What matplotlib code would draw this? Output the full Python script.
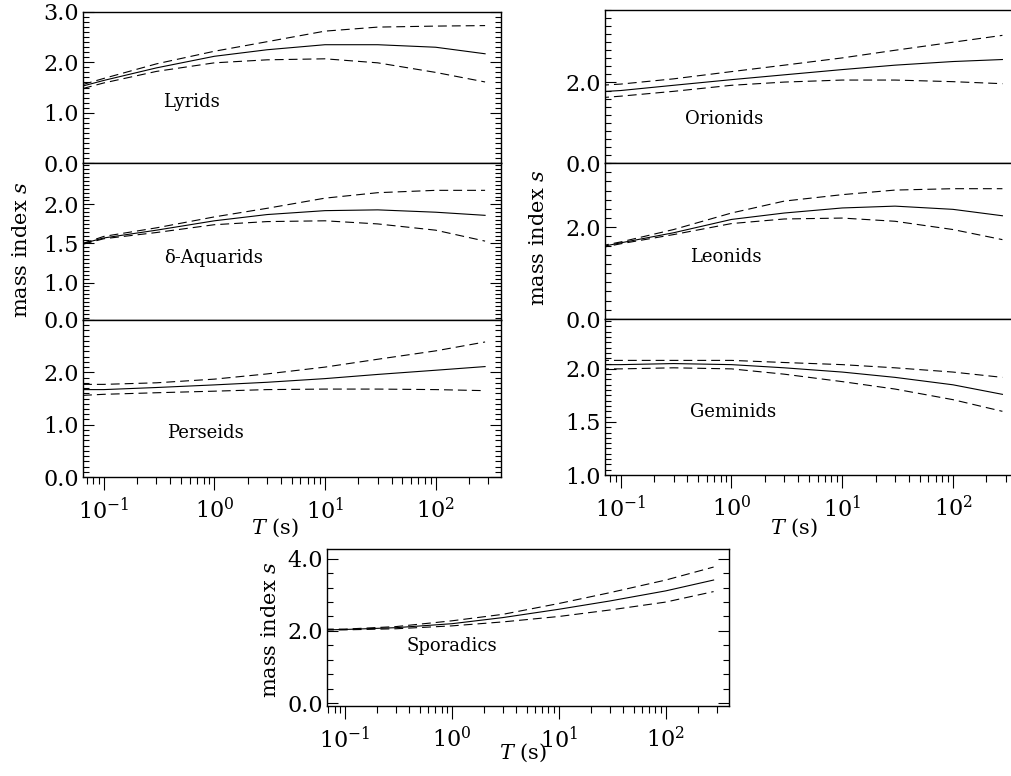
import matplotlib
matplotlib.use('Agg')
import matplotlib.pyplot as plt
from matplotlib.ticker import FixedLocator, FixedFormatter, MultipleLocator, LogLocator, NullFormatter

plt.rcParams['font.family'] = ['DejaVu Serif']
plt.rcParams['mathtext.fontset'] = 'dejavuserif'

# Exposure time T (s)
T = [0.065, 0.1, 0.3, 1, 3, 10, 30, 100, 280]

# Lyrids
lyr_mid = [1.53, 1.64, 1.89, 2.12, 2.25, 2.35, 2.35, 2.30, 2.17]
lyr_hi  = [1.56, 1.68, 1.97, 2.22, 2.41, 2.62, 2.70, 2.72, 2.73]
lyr_lo  = [1.48, 1.59, 1.82, 1.99, 2.05, 2.07, 1.99, 1.80, 1.61]
# delta-Aquarids
daq_mid = [1.50, 1.57, 1.67, 1.79, 1.87, 1.92, 1.93, 1.90, 1.86]
daq_hi  = [1.50, 1.59, 1.70, 1.84, 1.95, 2.08, 2.15, 2.18, 2.18]
daq_lo  = [1.49, 1.56, 1.64, 1.74, 1.78, 1.79, 1.75, 1.67, 1.53]
# Perseids
per_mid = [1.67, 1.67, 1.71, 1.76, 1.81, 1.88, 1.96, 2.04, 2.11]
per_hi  = [1.77, 1.77, 1.80, 1.87, 1.97, 2.10, 2.25, 2.41, 2.58]
per_lo  = [1.56, 1.58, 1.61, 1.64, 1.67, 1.68, 1.68, 1.67, 1.65]
# Orionids
ori_mid = [1.77, 1.80, 1.93, 2.07, 2.19, 2.32, 2.43, 2.52, 2.57]
ori_hi  = [1.93, 1.96, 2.09, 2.27, 2.43, 2.61, 2.80, 3.00, 3.17]
ori_lo  = [1.62, 1.66, 1.78, 1.93, 2.01, 2.06, 2.06, 2.02, 1.97]
# Leonids
leo_mid = [1.57, 1.66, 1.88, 2.17, 2.31, 2.42, 2.46, 2.39, 2.25]
leo_hi  = [1.59, 1.68, 1.95, 2.31, 2.57, 2.71, 2.81, 2.84, 2.84]
leo_lo  = [1.55, 1.64, 1.84, 2.08, 2.18, 2.20, 2.13, 1.95, 1.73]
# Geminids
gem_mid = [2.04, 2.04, 2.05, 2.04, 2.01, 1.97, 1.92, 1.85, 1.76]
gem_hi  = [2.08, 2.08, 2.08, 2.08, 2.06, 2.04, 2.01, 1.97, 1.92]
gem_lo  = [2.00, 2.00, 2.01, 2.00, 1.95, 1.88, 1.81, 1.71, 1.60]
# Sporadics
spo_mid = [2.03, 2.04, 2.09, 2.20, 2.37, 2.60, 2.83, 3.11, 3.41]
spo_hi  = [2.05, 2.05, 2.12, 2.28, 2.46, 2.76, 3.06, 3.41, 3.77]
spo_lo  = [2.03, 2.03, 2.06, 2.14, 2.25, 2.40, 2.58, 2.80, 3.09]

W, H = 1011, 776
fig = plt.figure(figsize=(W / 100, H / 100), dpi=100)


def axes_px(x0, y_top, x1, y_bot):
    return fig.add_axes([x0 / W, 1 - y_bot / H, (x1 - x0) / W, (y_bot - y_top) / H])


def panel(ax, xlim, ylim, majors, labels, minor_step, mid, hi, lo, show_x):
    ax.plot(T, mid, color='black', lw=0.8)
    for s in (hi, lo):
        ax.plot(T, s, color='black', lw=0.8, dashes=(8, 4.5))
    ax.set_xscale('log')
    ax.set_xlim(*xlim)
    ax.set_ylim(*ylim)
    ax.yaxis.set_major_locator(FixedLocator(majors))
    ax.yaxis.set_major_formatter(FixedFormatter(labels))
    ax.yaxis.set_minor_locator(MultipleLocator(minor_step))
    ax.tick_params(axis='y', which='both', direction='in', left=True, right=True,
                   labelsize=16, pad=3, width=0.8)
    ax.tick_params(axis='y', which='major', length=8)
    ax.tick_params(axis='y', which='minor', length=4)
    if show_x:
        ax.xaxis.set_major_locator(LogLocator(base=10))
        ax.xaxis.set_minor_locator(LogLocator(base=10, subs=range(2, 10)))
        ax.xaxis.set_minor_formatter(NullFormatter())
        ax.tick_params(axis='x', which='both', direction='out', bottom=True, top=False,
                       labelsize=16, width=0.8)
        ax.tick_params(axis='x', which='major', length=9, pad=6)
        ax.tick_params(axis='x', which='minor', length=5)
    else:
        ax.tick_params(axis='x', which='both', bottom=False, top=False, labelbottom=False)
    for sp in ax.spines.values():
        sp.set_linewidth(1.0)


# Left column
xl = (0.065, 390)
a1 = axes_px(83, 12, 501, 163)
panel(a1, xl, (0, 3.0), [0, 1, 2, 3], ['0.0', '1.0', '2.0', '3.0'], 0.1,
      lyr_mid, lyr_hi, lyr_lo, False)
a2 = axes_px(83, 163, 501, 320)
panel(a2, xl, (0.52, 2.53), [0.52, 1.0, 1.5, 2.0], ['0.0', '1.0', '1.5', '2.0'], 0.05,
      daq_mid, daq_hi, daq_lo, False)
a3 = axes_px(83, 320, 501, 477)
panel(a3, xl, (0, 3.0), [0, 1, 2], ['0.0', '1.0', '2.0'], 0.1,
      per_mid, per_hi, per_lo, True)

# Right column (its right edge is cut off by the page)
xr = (0.072, 497)
b1 = axes_px(605, 10, 1030, 163)
panel(b1, xr, (0, 3.8), [0, 2], ['0.0', '2.0'], 0.2, ori_mid, ori_hi, ori_lo, False)
b2 = axes_px(605, 163, 1030, 319)
panel(b2, xr, (0, 3.4), [0, 2], ['0.0', '2.0'], 0.2, leo_mid, leo_hi, leo_lo, False)
b3 = axes_px(605, 319, 1030, 475)
panel(b3, xr, (1.0, 2.47), [1.0, 1.5, 2.0], ['1.0', '1.5', '2.0'], 0.05,
      gem_mid, gem_hi, gem_lo, True)

# Bottom
c1 = axes_px(327, 549, 729, 706)
panel(c1, (0.068, 390), (-0.08, 4.27), [0, 2, 4], ['0.0', '2.0', '4.0'], 0.4,
      spo_mid, spo_hi, spo_lo, True)

# Shower names
names = [('Lyrids', 163, 102), ('δ-Aquarids', 164, 258), ('Perseids', 167, 433),
         ('Orionids', 685, 119), ('Leonids', 690, 257), ('Geminids', 690, 412),
         ('Sporadics', 406, 646)]
for txt, px, py in names:
    fig.text(px / W, 1 - py / H, txt, fontsize=13, ha='left', va='center')

# Axis labels
for px, py in [(22, 250), (538, 238), (270, 630)]:
    fig.text(px / W, 1 - py / H, 'mass index $s$', fontsize=15, rotation=90,
             ha='center', va='center')
for px, py in [(275, 528), (794, 528), (523, 753)]:
    fig.text(px / W, 1 - py / H, '$T$ (s)', fontsize=15, ha='center', va='center')

fig.savefig('out.png', dpi=100)
